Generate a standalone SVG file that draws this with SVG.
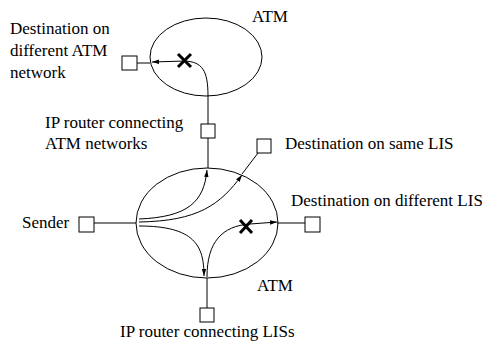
<svg xmlns="http://www.w3.org/2000/svg" width="482" height="343" viewBox="0 0 482 343">
<defs>
<marker id="ah" markerWidth="8" markerHeight="6" refX="7" refY="3" orient="auto" markerUnits="userSpaceOnUse">
<path d="M0,0.8 L7,3 L0,5.2 Z" fill="#000"/>
</marker>
<style>
.t{font-family:"Liberation Serif","Times New Roman",serif;font-size:17px;fill:#000}
.b{fill:#fff;stroke:#000;stroke-width:1}
.l{fill:none;stroke:#000;stroke-width:1}
.a{fill:none;stroke:#000;stroke-width:1;marker-end:url(#ah)}
.x{stroke:#000;stroke-width:3;stroke-linecap:butt}
</style>
</defs>
<rect width="482" height="343" fill="#fff"/>
<g id="connectors">
<line class="l" x1="137" y1="63" x2="150" y2="63"/>
<line class="l" x1="208" y1="96" x2="208" y2="124"/>
<line class="l" x1="208" y1="138" x2="208" y2="168"/>
<line class="l" x1="94" y1="223" x2="136" y2="223"/>
<line class="l" x1="277" y1="223" x2="305" y2="223"/>
<line class="l" x1="258" y1="153" x2="242" y2="174"/>
<line class="l" x1="207" y1="278" x2="207" y2="308"/>
</g>
<g id="atm-top">
<ellipse class="l" cx="206" cy="57" rx="56" ry="39"/>
<text class="t" x="252" y="22">ATM</text>
<path class="a" d="M208,96 C208,70 202,62 185,61 L152,62"/>
<path class="x" d="M178,54 L191,67 M191,54 L178,67"/>
</g>
<g id="atm-bottom">
<ellipse class="l" cx="207" cy="223" rx="71" ry="55"/>
<text class="t" x="257" y="291">ATM</text>
<path class="a" d="M139,219 C188,217 204,202 207,170"/>
<path class="a" d="M139,222 C198,221 220,205 242,175"/>
<path class="a" d="M139,226 C195,226 204,246 204,276"/>
<path class="a" d="M207,277 C207,242 222,226 250,224 L277,222"/>
<path class="x" d="M240,220 L252,233 M252,220 L240,233"/>
</g>
<g id="dest-atm">
<rect class="b" x="122" y="56" width="15" height="14"/>
<text class="t" x="10" y="34">Destination on</text>
<text class="t" x="10" y="56">different ATM</text>
<text class="t" x="10" y="78">network</text>
</g>
<g id="router-atm">
<rect class="b" x="201" y="124" width="14" height="14"/>
<text class="t" x="45" y="128">IP router connecting</text>
<text class="t" x="45" y="149">ATM networks</text>
</g>
<g id="dest-same">
<rect class="b" x="257" y="139" width="14" height="14"/>
<text class="t" x="285" y="149">Destination on same LIS</text>
</g>
<g id="dest-diff">
<rect class="b" x="305" y="217" width="15" height="15"/>
<text class="t" x="291" y="206">Destination on different LIS</text>
</g>
<g id="sender">
<rect class="b" x="79" y="217" width="15" height="15"/>
<text class="t" x="22" y="228">Sender</text>
</g>
<g id="router-lis">
<rect class="b" x="200" y="308" width="14" height="14"/>
<text class="t" x="120" y="337">IP router connecting LISs</text>
</g>
</svg>
